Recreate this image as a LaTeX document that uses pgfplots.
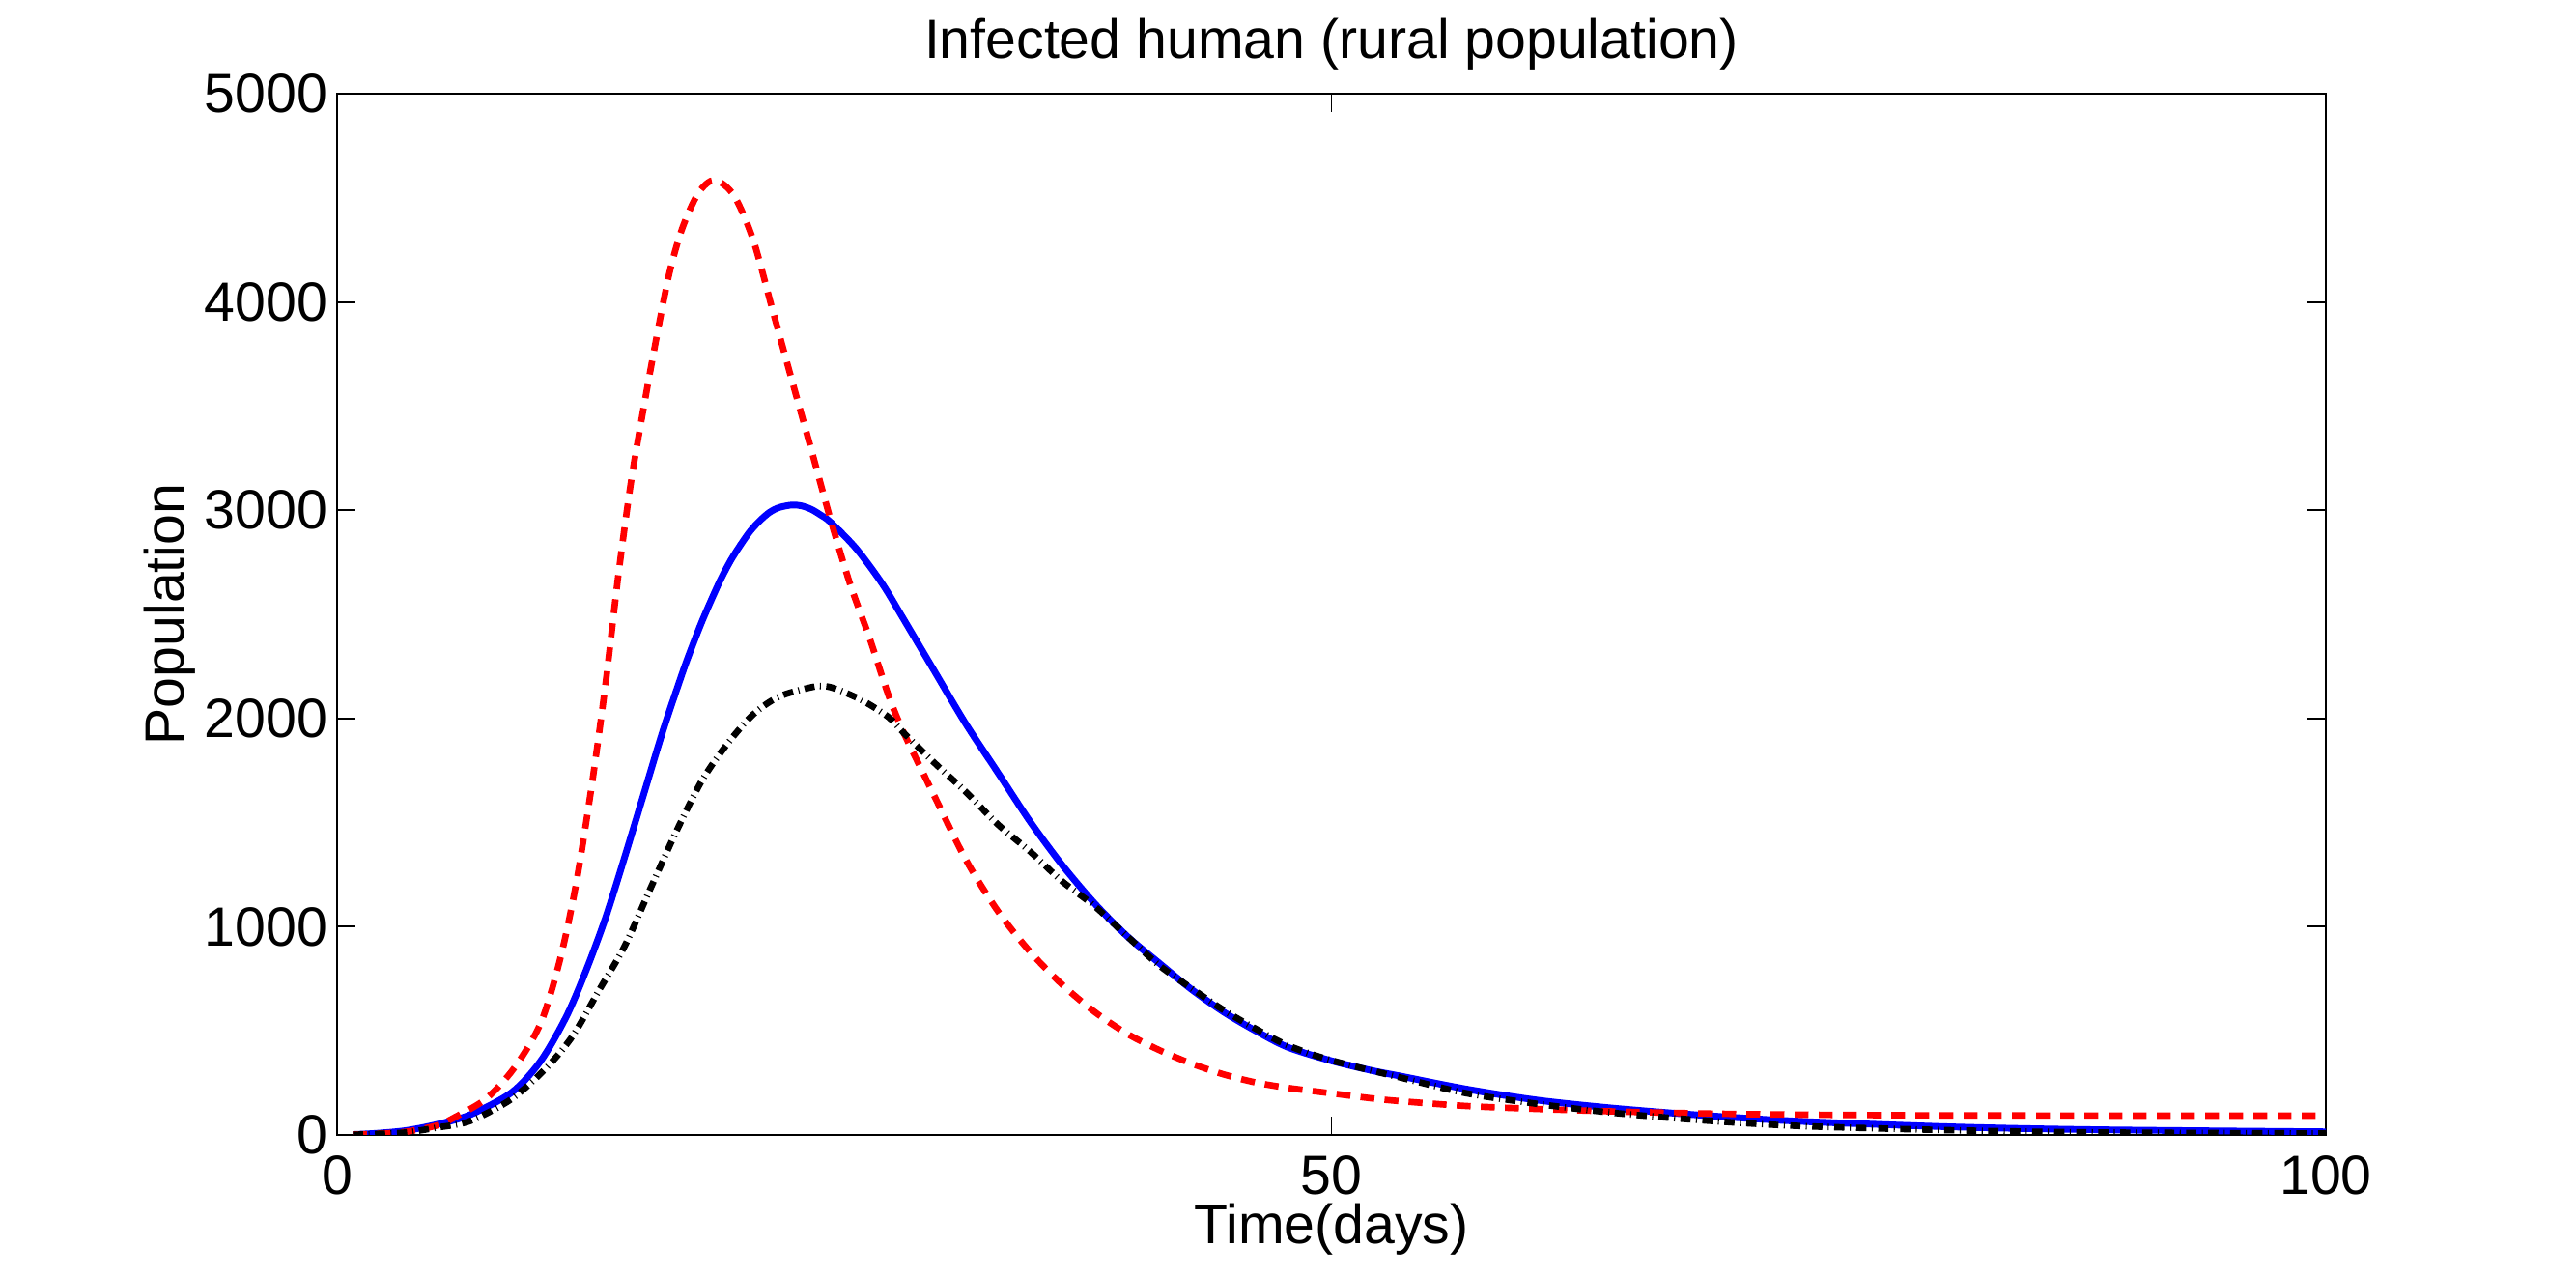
\documentclass[border=0pt]{standalone}
\usepackage{pgfplots}
\pgfplotsset{compat=1.18}
\usepackage{fontspec}
\setmainfont{Liberation Sans}
\newcommand{\lblfont}{\fontsize{10.3}{12}\selectfont}

\pgfplotstableread{
x y
0.8 2
2 6
3.45 15
5 45
5.88 83
7.49 174
8.95 327
10.25 540
11.22 846
12.03 1212
12.84 1701
13.49 2159
14.13 2678
14.78 3136
15.43 3500
16.08 3838
16.72 4143
17.37 4357
18.18 4525
18.99 4585
19.96 4510
20.93 4296
21.9 3960
22.87 3624
23.85 3289
24.82 2953
25.79 2647
26.76 2390
27.73 2110
28.5 1930
30 1634
31.62 1321
33.24 1073
34.86 878
36.47 721
38.09 591
39.71 487
41.33 408
42.95 343
44.57 291
46.19 252
47.81 226
50 200
52 176
53.5 162
56.8 139
60.3 125
63.8 114
67.3 106
70.9 100
76 96
81.5 94
90 93
100 93
}\redtab

\pgfplotstableread{
x y
0.8 2
2 8
3.45 21
5 50
6.69 97
8.79 205
10.25 357
11.54 571
12.52 790
13.49 1040
14.46 1334
15.43 1640
16.4 1945
17.37 2220
17.85 2345
18.34 2464
18.83 2572
19.31 2672
19.8 2760
20.29 2834
20.78 2900
21.26 2950
21.75 2990
22.23 3013
22.87 3025
23.35 3021
23.85 3004
24.3 2978
24.82 2942
26.11 2815
27.41 2647
28.38 2494
30.0 2233
31.62 1973
33.24 1738
34.86 1503
36.47 1295
38.09 1112
39.71 956
41.33 826
42.95 700
44.57 591
46.19 500
47.81 421
50 356
52 310
53.5 282
56.8 220
60.3 168
63.8 132
67.3 104
70.9 80
74.4 62
81.5 38
88.6 25
100 15
}\bluetab

\pgfplotstableread{
x y
0.8 1
2 5
3.45 12
5 35
6.69 67
8.79 174
10.57 327
11.87 479
13.16 693
14.46 907
15.75 1182
17.05 1456
18.34 1701
19.64 1880
20.93 2020
22.23 2105
23.85 2150
24.5 2155
25.14 2140
26.44 2085
27.73 2006
28.5 1930
30 1790
31.62 1647
33.24 1490
34.86 1360
36.47 1217
38.09 1099
39.71 956
41.33 815
42.95 705
44.57 600
46.19 510
47.81 430
50 358
53.5 275
56.8 200
60.3 150
63.8 110
67.3 80
70.9 56
74.4 40
81.5 22
88.6 12
100 7
}\blacktab

\begin{document}
\begin{tikzpicture}
\useasboundingbox (-62.82pt,-26.28pt) rectangle (417.24pt,211.5pt);
\begin{axis}[
  at={(0,0)}, anchor=south west,
  scale only axis, width=370.62pt, height=194.04pt,
  xmin=0, xmax=100, ymin=0, ymax=5000,
  xtick={0,50,100}, ytick={0,1000,2000,3000,4000,5000},
  scaled y ticks=false, scaled x ticks=false,
  tick align=inside, major tick length=3.5pt,
  axis line style={line width=0.4pt},
  every tick/.style={black, line width=0.35pt},
  /pgf/number format/assume math mode=true,
  /pgf/number format/1000 sep={},
  tick label style={font=\lblfont},
  xticklabel style={inner sep=0pt, yshift=-3.6pt},
  yticklabel style={inner sep=0pt, xshift=-1.6pt},
  every axis title shift=0pt,
  title={Infected human (rural population)},
  title style={at={(axis description cs:0.5,1.0335)}, anchor=base, inner sep=0pt, font=\lblfont},
  xlabel={Time(days)},
  xlabel style={at={(axis description cs:0.5,-0.1048)}, anchor=base, inner sep=0pt, font=\lblfont},
  ylabel={Population},
  ylabel style={at={(axis description cs:-0.0771,0.5)}, anchor=base, inner sep=0pt, font=\lblfont},
]
\addplot[color={rgb,1:red,0;green,0;blue,1}, line width=1.25pt, smooth] table[x=x,y=y] {\bluetab};
\addplot[color={rgb,1:red,1;green,0;blue,0}, line width=1.2pt, smooth, dash pattern=on 2.6pt off 1.9pt] table[x=x,y=y] {\redtab};
\addplot[color=black, line width=1.2pt, smooth, dash pattern=on 1.9pt off 1.0pt on 0.2pt off 1.0pt] table[x=x,y=y] {\blacktab};
\end{axis}
\end{tikzpicture}
\end{document}
